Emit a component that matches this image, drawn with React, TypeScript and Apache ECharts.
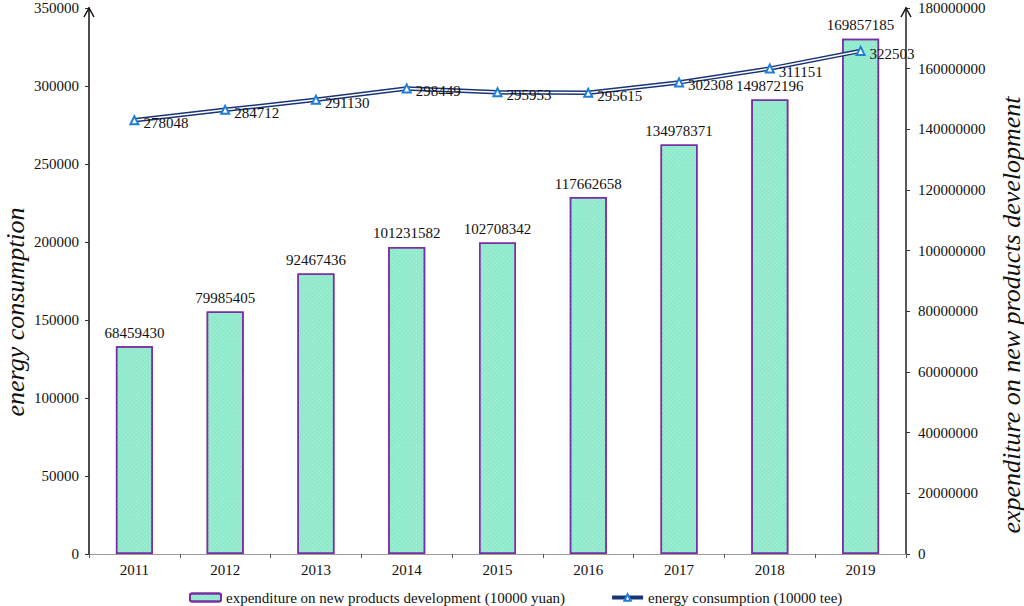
import React, { useEffect, useRef } from "react";
import * as echarts from "echarts";

const years = ["2011", "2012", "2013", "2014", "2015", "2016", "2017", "2018", "2019"];
const expenditure = [68459430, 79985405, 92467436, 101231582, 102708342, 117662658, 134978371, 149872196, 169857185];
const energy = [278048, 284712, 291130, 298449, 295953, 295615, 302308, 311151, 322503];

const EXP_NAME = "expenditure on new products development (10000 yuan)";
const EN_NAME = "energy consumption (10000 tee)";
const FONT = "Liberation Serif, Times New Roman, serif";

export default function App() {
  const ref = useRef<HTMLDivElement>(null);
  useEffect(() => {
    if (!ref.current) return;
    const chart = echarts.init(ref.current, null, { renderer: "svg" });
    const chev = (x: number) => ({
      type: "polyline",
      shape: { points: [[x - 5, 17], [x, 8], [x + 5, 17]] },
      style: { stroke: "#111", lineWidth: 1.5, fill: "none" },
      z: 100,
    });
    chart.setOption({
      animation: false,
      backgroundColor: "#fff",
      textStyle: { fontFamily: FONT },
      grid: { left: 89, right: 118, top: 8, bottom: 52, containLabel: false },
      legend: {
        left: 189,
        top: 590,
        padding: 0,
        itemWidth: 31,
        itemHeight: 8,
        itemGap: 45,
        textStyle: { fontFamily: FONT, fontSize: 15, color: "#111" },
        data: [
          { name: EXP_NAME },
          { name: EN_NAME, lineStyle: { color: "#1a3577", width: 4 } },
        ],
      },
      xAxis: {
        type: "category",
        data: years,
        axisLine: { lineStyle: { color: "#9a9a9a", width: 1 } },
        axisTick: { show: true, length: 4, lineStyle: { color: "#555" } },
        axisLabel: { fontFamily: FONT, fontSize: 15, color: "#111", margin: 8 },
      },
      yAxis: [
        {
          type: "value",
          min: 0,
          max: 350000,
          interval: 50000,
          splitLine: { show: false },
          axisLine: { show: true, lineStyle: { color: "#111", width: 1.5 } },
          axisTick: { show: true, length: 4, lineStyle: { color: "#333" } },
          axisLabel: { fontFamily: FONT, fontSize: 15, color: "#111", margin: 10, formatter: (v: number) => String(v) },
        },
        {
          type: "value",
          min: 0,
          max: 180000000,
          interval: 20000000,
          position: "right",
          splitLine: { show: false },
          axisLine: { show: true, lineStyle: { color: "#222", width: 1.5 } },
          axisTick: { show: true, length: 4, lineStyle: { color: "#333" } },
          axisLabel: { fontFamily: FONT, fontSize: 15, color: "#111", margin: 12, formatter: (v: number) => String(v) },
        },
      ],
      series: [
        {
          name: EXP_NAME,
          type: "bar",
          yAxisIndex: 1,
          data: expenditure,
          barWidth: 37,
          itemStyle: {
            color: "#8fe9cb",
            borderColor: "#7a2ea3",
            borderWidth: 1.5,
            decal: {
              symbol: "rect",
              symbolSize: 1,
              color: "rgba(255,255,255,0.45)",
              dashArrayX: [1, 2],
              dashArrayY: [1, 2],
              rotation: -Math.PI / 4,
            },
          },
          label: {
            show: true,
            position: "top",
            distance: 6,
            fontFamily: FONT,
            fontSize: 15,
            color: "#111",
            formatter: (p: any) => String(p.value),
          },
          z: 1,
        },
        {
          name: "energy-bg",
          type: "line",
          yAxisIndex: 0,
          data: energy,
          symbol: "none",
          silent: true,
          lineStyle: { color: "#1a3577", width: 4.5 },
          z: 3,
        },
        {
          name: EN_NAME,
          type: "line",
          yAxisIndex: 0,
          data: energy,
          symbol: "triangle",
          symbolSize: 8,
          itemStyle: { color: "#ffffff", borderColor: "#1f7fd6", borderWidth: 2 },
          lineStyle: { color: "#ffffff", width: 1.5 },
          label: {
            show: true,
            position: "right",
            distance: 4,
            offset: [0, 3],
            fontFamily: FONT,
            fontSize: 15,
            color: "#111",
            formatter: (p: any) => String(p.value),
          },
          z: 4,
        },
      ],
      graphic: [
        chev(89),
        chev(906),
        {
          type: "text",
          x: 15,
          y: 312,
          rotation: Math.PI / 2,
          style: {
            text: "energy consumption",
            font: "italic 26px " + FONT,
            fill: "#111",
            align: "center",
            verticalAlign: "middle",
          },
        },
        {
          type: "text",
          x: 1011,
          y: 315,
          rotation: Math.PI / 2,
          style: {
            text: "expenditure on new products development",
            font: "italic 26px " + FONT,
            fill: "#111",
            align: "center",
            verticalAlign: "middle",
          },
        },
      ],
    });
    return () => chart.dispose();
  }, []);
  return (
    <div
      ref={ref}
      style={{ position: "absolute", left: 0, top: 0, width: 1024, height: 606 }}
    />
  );
}
